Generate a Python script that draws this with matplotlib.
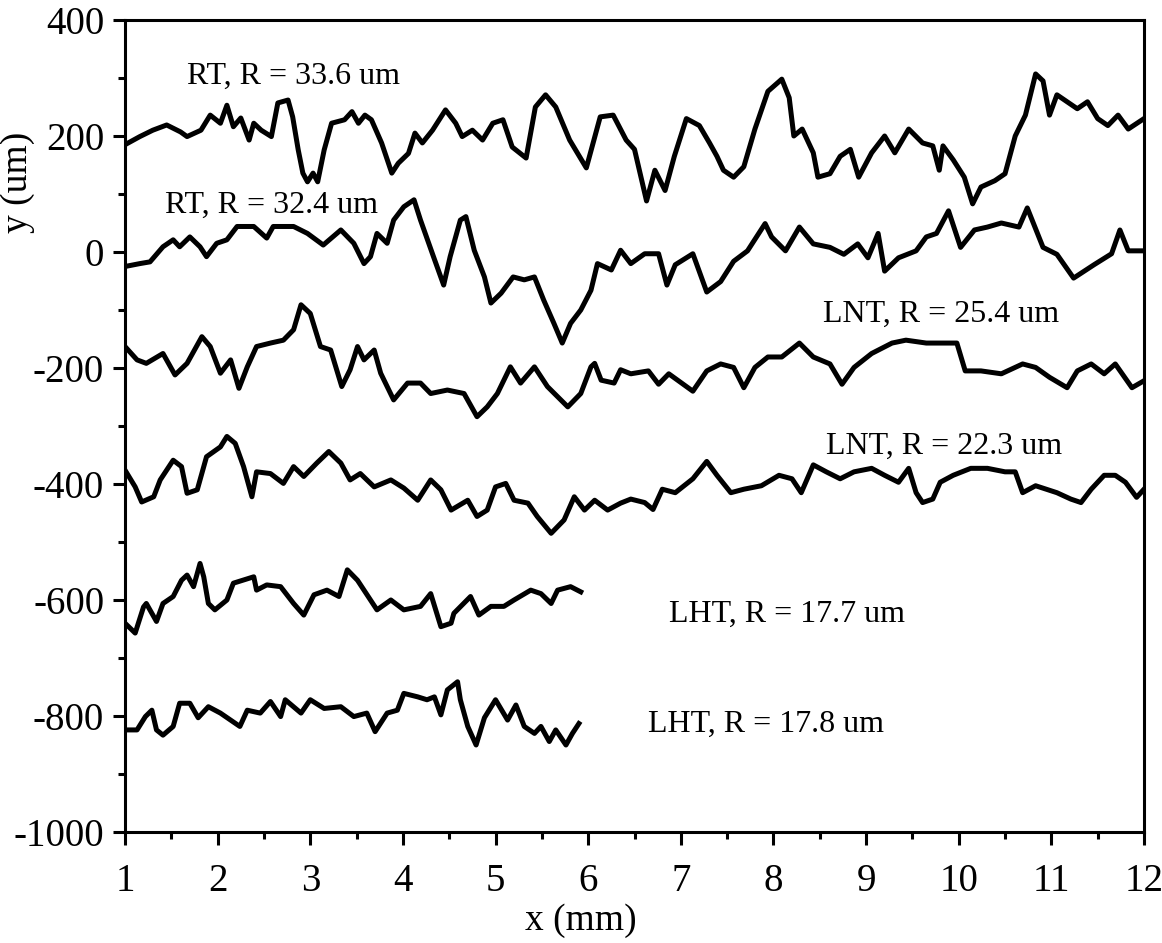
import numpy as np
import matplotlib
matplotlib.use("Agg")
import matplotlib.pyplot as plt
from matplotlib.ticker import MultipleLocator

plt.rcParams['font.family'] = ['Liberation Serif', 'DejaVu Serif']
plt.rcParams['axes.unicode_minus'] = False

# ---- profile data (x in mm, y in um) ----
rt1_x = [1.00, 1.16, 1.30, 1.45, 1.60, 1.67, 1.82, 1.92, 2.03, 2.10,
         2.17, 2.25, 2.34, 2.39, 2.47, 2.58, 2.65, 2.76, 2.81, 2.87,
         2.92, 2.97, 3.03, 3.08, 3.15, 3.23, 3.37, 3.45, 3.52, 3.59,
         3.66, 3.77, 3.88, 3.95, 4.06, 4.13, 4.21, 4.32, 4.46, 4.57,
         4.64, 4.75, 4.86, 4.97, 5.08, 5.18, 5.33, 5.43, 5.54, 5.65,
         5.80, 5.98, 6.13, 6.27, 6.41,
         6.50, 6.63, 6.72, 6.83, 6.93, 7.06, 7.20, 7.31, 7.39, 7.46,
         7.57, 7.68, 7.80, 7.94, 8.09, 8.17, 8.22, 8.31, 8.43, 8.48,
         8.61, 8.72, 8.83, 8.92, 9.06, 9.20, 9.31, 9.46, 9.61, 9.72,
         9.79, 9.83, 9.94, 10.06, 10.15, 10.24, 10.39, 10.50, 10.61, 10.72,
         10.83, 10.91, 10.98, 11.06, 11.17, 11.28, 11.39, 11.50, 11.61, 11.72,
         11.83, 12.00]
rt1_y = [185, 199, 210, 219, 207, 199, 210, 236, 222, 253,
         216, 231, 193, 222, 210, 199, 257, 262, 233, 176,
         136, 121, 136, 121, 176, 222, 228, 242, 222, 236,
         228, 188, 136, 153, 170, 205, 188, 210, 245, 222,
         199, 210, 193, 222, 228, 181, 162, 250, 271, 250,
         193, 145, 233, 236, 193,
         177, 88, 141, 106, 165, 230, 218, 188, 165, 141,
         129, 147, 212, 277, 298, 266, 200, 212, 171, 129,
         135, 165, 177, 129, 171, 200, 171, 212, 188, 183,
         141, 183, 159, 129, 83, 112, 123, 135, 200, 236,
         307, 295, 236, 271, 259, 247, 259, 230, 218, 236,
         212, 230]

rt2_x = [1.00, 1.16, 1.27, 1.41, 1.52, 1.59, 1.70, 1.81, 1.88, 1.99,
         2.10, 2.21, 2.39, 2.53, 2.60, 2.82, 2.97, 3.14, 3.33, 3.47,
         3.58, 3.65, 3.72, 3.83, 3.90, 4.01, 4.12, 4.19, 4.33, 4.44,
         4.51, 4.62, 4.68, 4.77, 4.88, 4.95, 5.06, 5.19, 5.31, 5.42,
         5.52, 5.63, 5.72, 5.81, 5.92, 6.03, 6.10, 6.25, 6.35, 6.46,
         6.61, 6.76, 6.85, 6.94, 7.13, 7.28, 7.43, 7.57, 7.72, 7.91,
         7.98, 8.13, 8.28, 8.43, 8.61, 8.76, 8.91, 9.02, 9.13, 9.20,
         9.35, 9.54, 9.65, 9.76, 9.89, 10.02, 10.17, 10.31, 10.46, 10.65,
         10.74, 10.91, 11.06, 11.24, 11.46, 11.65, 11.74, 11.83, 12.00]
rt2_y = [-25, -20, -17, 9, 21, 9, 26, 9, -8, 15,
         21, 44, 44, 24, 44, 44, 32, 12, 38, 15,
         -20, -8, 32, 15, 55, 78, 90, 55, -8, -57,
         -8, 55, 61, 3, -43, -88, -71, -43, -48, -43,
         -83, -123, -157, -123, -100, -66, -20, -31, 3, -20,
         -3, -3, -57, -22, -3, -69, -51, -16, 2, 49,
         26, 2, 43, 14, 8, -4, 14, -10, 32, -33,
         -10, 2, 26, 32, 71, 8, 38, 43, 50, 43,
         76, 8, -4, -45, -22, -3, 38, 2, 2]

lnt1_x = [1.00, 1.13, 1.23, 1.41, 1.54, 1.67, 1.83, 1.92, 2.03, 2.14,
          2.23, 2.32, 2.42, 2.57, 2.71, 2.82, 2.90, 3.00, 3.11, 3.22,
          3.34, 3.43, 3.51, 3.58, 3.69, 3.76, 3.90, 4.05, 4.19, 4.30,
          4.48, 4.66, 4.80, 4.91, 5.02, 5.16, 5.27, 5.42, 5.56, 5.78,
          5.92, 6.03, 6.07, 6.14, 6.28, 6.35, 6.46, 6.65, 6.76, 6.87,
          7.13, 7.28, 7.43, 7.57, 7.68, 7.80, 7.94, 8.09, 8.28, 8.43,
          8.61, 8.74, 8.87, 9.06, 9.28, 9.43, 9.65, 9.80, 9.98, 10.07,
          10.24, 10.46, 10.69, 10.83, 10.98, 11.17, 11.28, 11.43, 11.57, 11.69,
          11.87, 12.00]
lnt1_y = [-163, -186, -192, -175, -212, -192, -146, -163, -209, -186,
          -235, -198, -163, -157, -152, -134, -91, -106, -163, -169,
          -232, -203, -163, -186, -169, -209, -255, -226, -226, -244,
          -238, -244, -284, -267, -244, -198, -226, -198, -232, -267,
          -244, -198, -192, -221, -226, -203, -210, -205, -228, -210,
          -240, -205, -193, -199, -234, -199, -181, -181, -157, -181,
          -193, -228, -199, -175, -157, -152, -157, -157, -157, -205,
          -205, -210, -193, -199, -216, -234, -205, -193, -210, -193,
          -234, -222]

lnt2_x = [1.00, 1.11, 1.18, 1.31, 1.38, 1.52, 1.61, 1.67, 1.78, 1.88,
          2.03, 2.10, 2.19, 2.28, 2.37, 2.42, 2.57, 2.71, 2.82, 2.93,
          3.07, 3.20, 3.33, 3.43, 3.54, 3.69, 3.87, 4.01, 4.16, 4.30,
          4.41, 4.52, 4.70, 4.80, 4.91, 5.00, 5.11, 5.20, 5.35, 5.45,
          5.60, 5.74, 5.85, 5.96, 6.07, 6.21, 6.35, 6.46, 6.61, 6.70,
          6.80, 6.94, 7.13, 7.28, 7.39, 7.54, 7.68, 7.87, 8.06, 8.20,
          8.30, 8.43, 8.57, 8.72, 8.87, 9.06, 9.20, 9.35, 9.46, 9.54,
          9.61, 9.72, 9.80, 9.94, 10.13, 10.31, 10.50, 10.61, 10.69, 10.83,
          11.06, 11.21, 11.32, 11.43, 11.57, 11.69, 11.80, 11.92, 12.00]
lnt2_y = [-376, -405, -431, -422, -393, -359, -370, -416, -410, -353,
          -336, -318, -330, -370, -422, -379, -382, -399, -370, -387,
          -364, -344, -364, -393, -382, -405, -393, -407, -428, -393,
          -410, -445, -428, -456, -445, -405, -399, -428, -433, -456,
          -485, -462, -422, -445, -428, -445, -433, -426, -432, -444,
          -409, -415, -391, -361, -385, -415, -409, -403, -385, -391,
          -415, -367, -379, -391, -379, -373, -385, -397, -373, -415,
          -432, -426, -397, -385, -373, -373, -379, -379, -415, -403,
          -415, -426, -432, -409, -385, -385, -397, -423, -409]

lht1_x = [1.00, 1.11, 1.20, 1.23, 1.34, 1.41, 1.52, 1.61, 1.67, 1.74,
          1.81, 1.85, 1.90, 1.97, 2.10, 2.17, 2.39, 2.42, 2.53, 2.68,
          2.82, 2.93, 3.04, 3.18, 3.31, 3.40, 3.51, 3.65, 3.72, 3.87,
          4.01, 4.19, 4.30, 4.41, 4.52, 4.55, 4.73, 4.82, 4.95, 5.09,
          5.20, 5.38, 5.49, 5.60, 5.67, 5.81, 5.92]
lht1_y = [-640, -657, -612, -606, -637, -606, -594, -566, -557, -577,
          -537, -560, -606, -617, -600, -571, -560, -583, -574, -577,
          -606, -626, -591, -583, -594, -548, -566, -600, -617, -600,
          -617, -611, -589, -646, -640, -623, -594, -626, -611, -611,
          -600, -583, -589, -606, -583, -577, -586]

lht2_x = [1.00, 1.13, 1.22, 1.29, 1.34, 1.41, 1.52, 1.59, 1.70, 1.79,
          1.90, 2.03, 2.24, 2.32, 2.46, 2.57, 2.68, 2.73, 2.90, 3.00,
          3.15, 3.33, 3.47, 3.61, 3.70, 3.83, 3.94, 4.01, 4.16, 4.26,
          4.34, 4.41, 4.48, 4.59, 4.62, 4.70, 4.79, 4.88, 5.00, 5.13,
          5.22, 5.31, 5.42, 5.49, 5.58, 5.65, 5.76, 5.83, 5.90]
lht2_y = [-824, -824, -801, -790, -824, -833, -818, -778, -778, -803,
          -784, -795, -818, -790, -795, -775, -801, -772, -795, -772,
          -787, -784, -801, -795, -827, -795, -790, -761, -767, -772,
          -767, -798, -755, -741, -772, -818, -850, -803, -772, -807,
          -781, -818, -830, -818, -844, -824, -850, -830, -813]

labels = ["RT, R = 33.6 um", "RT, R = 32.4 um", "LNT, R = 25.4 um",
          "LNT, R = 22.3 um", "LHT, R = 17.7 um", "LHT, R = 17.8 um"]
label_x = [1.67, 1.43, 8.54, 8.57, 6.87, 6.65]
label_y = [303, 81, -107, -335, -625, -815]

profiles = [(rt1_x, rt1_y), (rt2_x, rt2_y), (lnt1_x, lnt1_y),
            (lnt2_x, lnt2_y), (lht1_x, lht1_y), (lht2_x, lht2_y)]

# ---- figure ----
W, H = 1162, 943
fig = plt.figure(figsize=(W / 100, H / 100), dpi=100)
ax = fig.add_axes([125 / W, (H - 832) / H, (1144 - 125) / W, (832 - 20) / H])

for xs, ys in profiles:
    ax.plot(xs, ys, color='black', lw=3.6, solid_joinstyle='round')

for txt, tx, ty in zip(labels, label_x, label_y):
    ax.text(tx, ty, txt, fontsize=23, ha='left', va='center')

ax.set_xlim(1, 12)
ax.set_ylim(-1000, 400)
ax.xaxis.set_major_locator(MultipleLocator(1))
ax.xaxis.set_minor_locator(MultipleLocator(0.5))
ax.yaxis.set_major_locator(MultipleLocator(200))
ax.yaxis.set_minor_locator(MultipleLocator(100))

ax.tick_params(which='both', direction='out', width=2.2, top=False, right=False)
ax.tick_params(which='major', length=9, labelsize=28)
ax.tick_params(which='minor', length=5)
ax.tick_params(axis='x', which='major', pad=13)
ax.tick_params(axis='y', which='major', pad=6)
for s in ax.spines.values():
    s.set_linewidth(2.2)

ax.set_xlabel("x (mm)", fontsize=27)
ax.set_ylabel("y (um)", fontsize=27)
ax.xaxis.set_label_coords(0.447, -0.088)
ax.yaxis.set_label_coords(-0.088, 0.80)

fig.savefig("out.png", dpi=100)
